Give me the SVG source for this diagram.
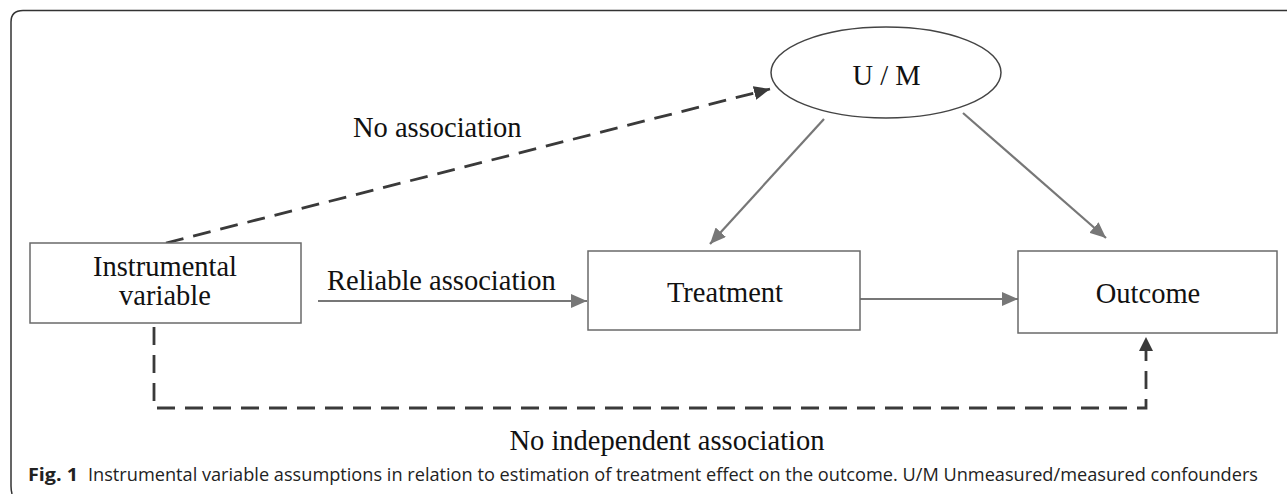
<svg xmlns="http://www.w3.org/2000/svg" width="1287" height="494" viewBox="0 0 1287 494">
<style>
.t{font-family:"Liberation Serif","Times New Roman",serif;font-size:28.5px;fill:#111}
.cap{font-family:"Open Sans","Noto Sans",sans-serif;font-size:17.5px;fill:#222}
.box{fill:#fff;stroke:#6a6a6a;stroke-width:1.5}
.g{stroke:#777;stroke-width:2.2;fill:none}
.d{stroke:#3a3a3a;stroke-width:2.8;fill:none;stroke-dasharray:18 10}
</style>
<defs>
<marker id="ag" markerUnits="userSpaceOnUse" markerWidth="16" markerHeight="14" refX="16" refY="7" orient="auto">
<path d="M0,0 L16,7 L0,14 z" fill="#777"/>
</marker>
<marker id="ad" markerUnits="userSpaceOnUse" markerWidth="16" markerHeight="14" refX="16" refY="7" orient="auto">
<path d="M0,0 L16,7 L0,14 z" fill="#3a3a3a"/>
</marker>
</defs>
<rect width="1287" height="494" fill="#fff"/>
<path d="M12,494 Q11,490 11,486 L11,22 Q11,10.5 23,10.5 L1287,10.5" fill="none" stroke="#333" stroke-width="1.5"/>
<g id="connectors">
<line class="d" x1="166" y1="243" x2="770" y2="89" marker-end="url(#ad)"/>
<line class="g" x1="824" y1="119" x2="710" y2="244" marker-end="url(#ag)"/>
<line class="g" x1="963" y1="113" x2="1106" y2="238" marker-end="url(#ag)"/>
<line class="g" x1="318" y1="301" x2="587" y2="301" marker-end="url(#ag)"/>
<line class="g" x1="860" y1="299" x2="1018" y2="299" marker-end="url(#ag)"/>
<path class="d" d="M154,327 V408 H1146 V340"/>
<path d="M1139,351 L1153,351 L1146,337 z" fill="#3a3a3a"/>
<text class="t" x="353" y="137">No association</text>
<text class="t" x="327" y="290">Reliable association</text>
<text class="t" x="667" y="450" text-anchor="middle">No independent association</text>
</g>
<g id="um">
<ellipse cx="886" cy="72.5" rx="115" ry="45.5" fill="#fff" stroke="#444" stroke-width="1.5"/>
<text class="t" x="886.5" y="85" text-anchor="middle">U / M</text>
</g>
<g id="iv">
<rect class="box" x="30" y="243" width="271" height="80"/>
<text class="t" x="165" y="276" text-anchor="middle">Instrumental</text>
<text class="t" x="165" y="305" text-anchor="middle">variable</text>
</g>
<g id="treatment">
<rect class="box" x="588" y="251" width="272" height="79"/>
<text class="t" x="725" y="302" text-anchor="middle">Treatment</text>
</g>
<g id="outcome">
<rect class="box" x="1018" y="251" width="259" height="82"/>
<text class="t" x="1148" y="303" text-anchor="middle">Outcome</text>
</g>
<text class="cap" x="28" y="481" font-weight="bold" textLength="50" lengthAdjust="spacingAndGlyphs">Fig. 1</text>
<text class="cap" x="88" y="481" textLength="1170" lengthAdjust="spacingAndGlyphs">Instrumental variable assumptions in relation to estimation of treatment effect on the outcome. U/M Unmeasured/measured confounders</text>
</svg>
